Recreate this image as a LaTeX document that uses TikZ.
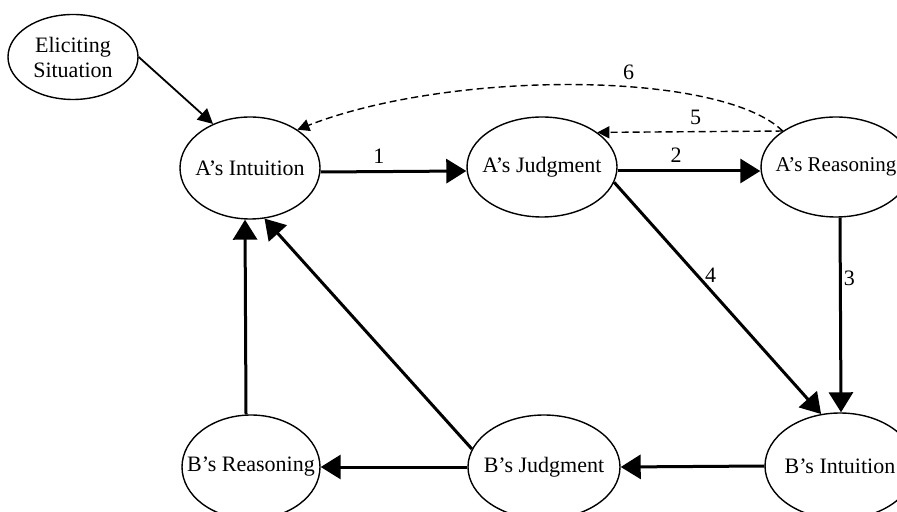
\documentclass[tikz,border=0pt]{standalone}
\usepackage{fontspec}
\setmainfont{Liberation Serif}
\usetikzlibrary{shapes.geometric,arrows.meta}

\tikzset{
  bubble/.style={ellipse, draw, line width=0.7pt, inner xsep=-9pt, inner ysep=0pt,
    font=\fontsize{11}{12.5}\selectfont},
  flow/.style={line width=1.5pt, -{Triangle[length=10pt,width=12pt]}},
  cue/.style={line width=0.9pt, -{Triangle[length=7.5pt,width=7.5pt]}},
  back/.style={line width=0.7pt, dash pattern=on 3.5pt off 2pt, -{Triangle[length=6pt,width=6pt]}},
  num/.style={font=\fontsize{11}{12.5}\selectfont}
}

\begin{document}
\begin{tikzpicture}[x=0.5pt,y=-0.5pt]
\useasboundingbox (0,0) rectangle (897,512);

% Person A
\node[bubble, minimum width=65pt, minimum height=42.5pt, align=center] (elic) at (73,57) {Eliciting\\Situation};
\node[bubble, minimum width=70pt, minimum height=51pt] (aint) at (250,168) {A’s Intuition};
\node[bubble, minimum width=75pt, minimum height=50pt] (ajud) at (542,167) {A’s Judgment};
\node[bubble, minimum width=75pt, minimum height=50pt, font=\fontsize{10.5}{12}\selectfont] (areas) at (836,167) {A’s Reasoning};

% Person B
\node[bubble, minimum width=75pt, minimum height=53pt] (bint) at (840,466) {B’s Intuition};
\node[bubble, minimum width=76pt, minimum height=52pt] (bjud) at (544,467) {B’s Judgment};
\node[bubble, minimum width=69pt, minimum height=52pt] (breas) at (251,467) {B’s Reasoning};

% Links of A
\draw[cue] (elic.east) -- (aint.130);
\draw[flow] ([yshift=-2pt]aint.east) -- ([yshift=-2pt]ajud.west) node[num, pos=0.4, above] {1};
\draw[flow] ([yshift=-2pt]ajud.east) -- ([yshift=-2pt]areas.west) node[num, pos=0.41, above] {2};
\draw[flow] ([xshift=2pt]areas.south) -- ([xshift=0.5pt]bint.north) node[num, pos=0.31, right, inner sep=1pt] {3};
\draw[flow] (ajud.348) -- (bint.110) node[num, pos=0.4, right] {4};
\draw[back] (areas.146) -- (ajud.32) node[num, pos=0.47, above] {5};
\draw[back] (areas.146) .. controls (720,70) and (450,70) .. (aint.39) node[num, pos=0.4, above] {6};

% Links of B
\draw[flow] (bint.west) -- (bjud.east);
\draw[flow] (bjud.west) -- (breas.east);
\draw[flow] (bjud.166) -- (aint.286);
\draw[flow] ([xshift=-2.5pt]breas.north) -- ([xshift=-2.5pt]aint.south);

\end{tikzpicture}
\end{document}
